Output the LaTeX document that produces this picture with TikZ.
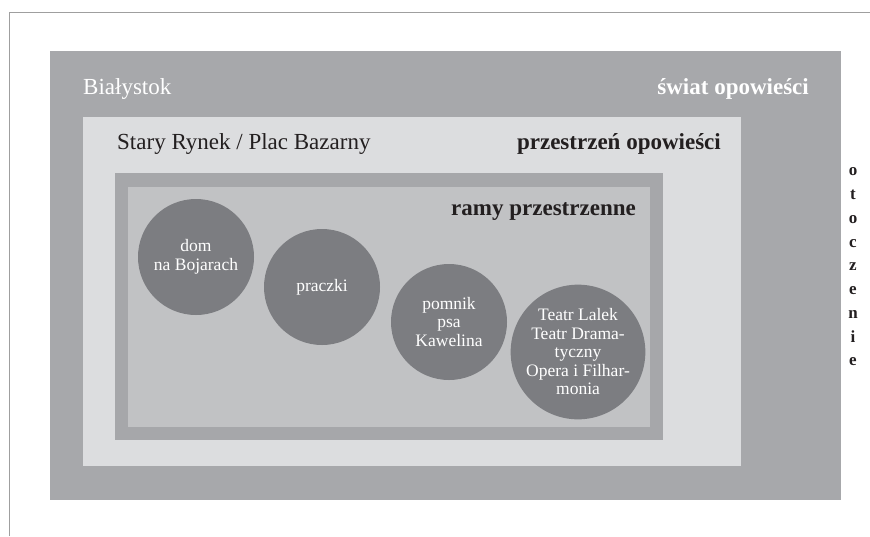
\documentclass[tikz,border=0pt]{standalone}
\usepackage{fontspec}
\setmainfont{Liberation Serif}
\usepackage{tikz}
\definecolor{welt}{HTML}{A7A8AB}
\definecolor{raum}{HTML}{DCDDDF}
\definecolor{rahmen}{HTML}{A6A7AA}
\definecolor{innen}{HTML}{C1C2C4}
\definecolor{kreis}{HTML}{7C7D81}
\definecolor{schrift}{HTML}{231F20}

\begin{document}
\begin{tikzpicture}[x=1pt,y=-1pt,
  ort/.style={circle,fill=kreis,text=white,minimum size=116pt,inner sep=0pt,align=center,font=\fontsize{17.5}{18.5}\selectfont},
  titel/.style={inner sep=0pt,font=\fontsize{23}{26}\selectfont},
  fett/.style={titel,font=\fontsize{23}{26}\selectfont\bfseries}]
  \useasboundingbox (0,0) rectangle (870,536);
  \draw[gray!75,line width=1pt] (9,536) -- (9,12) -- (870,12);
  \fill[welt] (50,51) rectangle (841,500);
  \fill[raum] (83,117) rectangle (741,466);
  \fill[rahmen] (115,173) rectangle (663,440);
  \fill[innen] (128,187) rectangle (650,427);
  \draw node[titel,text=white,anchor=base west] (bialystok) at (83,94) {Białystok}
    node[fett,text=white,anchor=base east] (swiat) at (809,94) {świat opowieści}
    node[titel,text=schrift,anchor=base west] (rynek) at (117,149) {Stary Rynek / Plac Bazarny}
    node[fett,text=schrift,anchor=base east] (przestrzen) at (721,149) {przestrzeń opowieści}
    node[fett,text=schrift,anchor=base east] (ramy) at (636,215) {ramy przestrzenne};
  \node[fett,text=schrift,align=center,font=\fontsize{17}{23.75}\selectfont\bfseries] (otoczenie) at (853,267)
    {o\\t\\o\\c\\z\\e\\n\\i\\e};
  \draw node[ort] (dom) at (196,257) {dom\\na Bojarach}
    node[ort] (praczki) at (322,287) {praczki}
    node[ort] (pomnik) at (449,322) {pomnik\\psa\\Kawelina}
    node[ort,minimum size=124pt] (teatr) at (578,352) {Teatr Lalek\\Teatr Drama-\\tyczny\\Opera i Filhar-\\monia};
\end{tikzpicture}
\end{document}
